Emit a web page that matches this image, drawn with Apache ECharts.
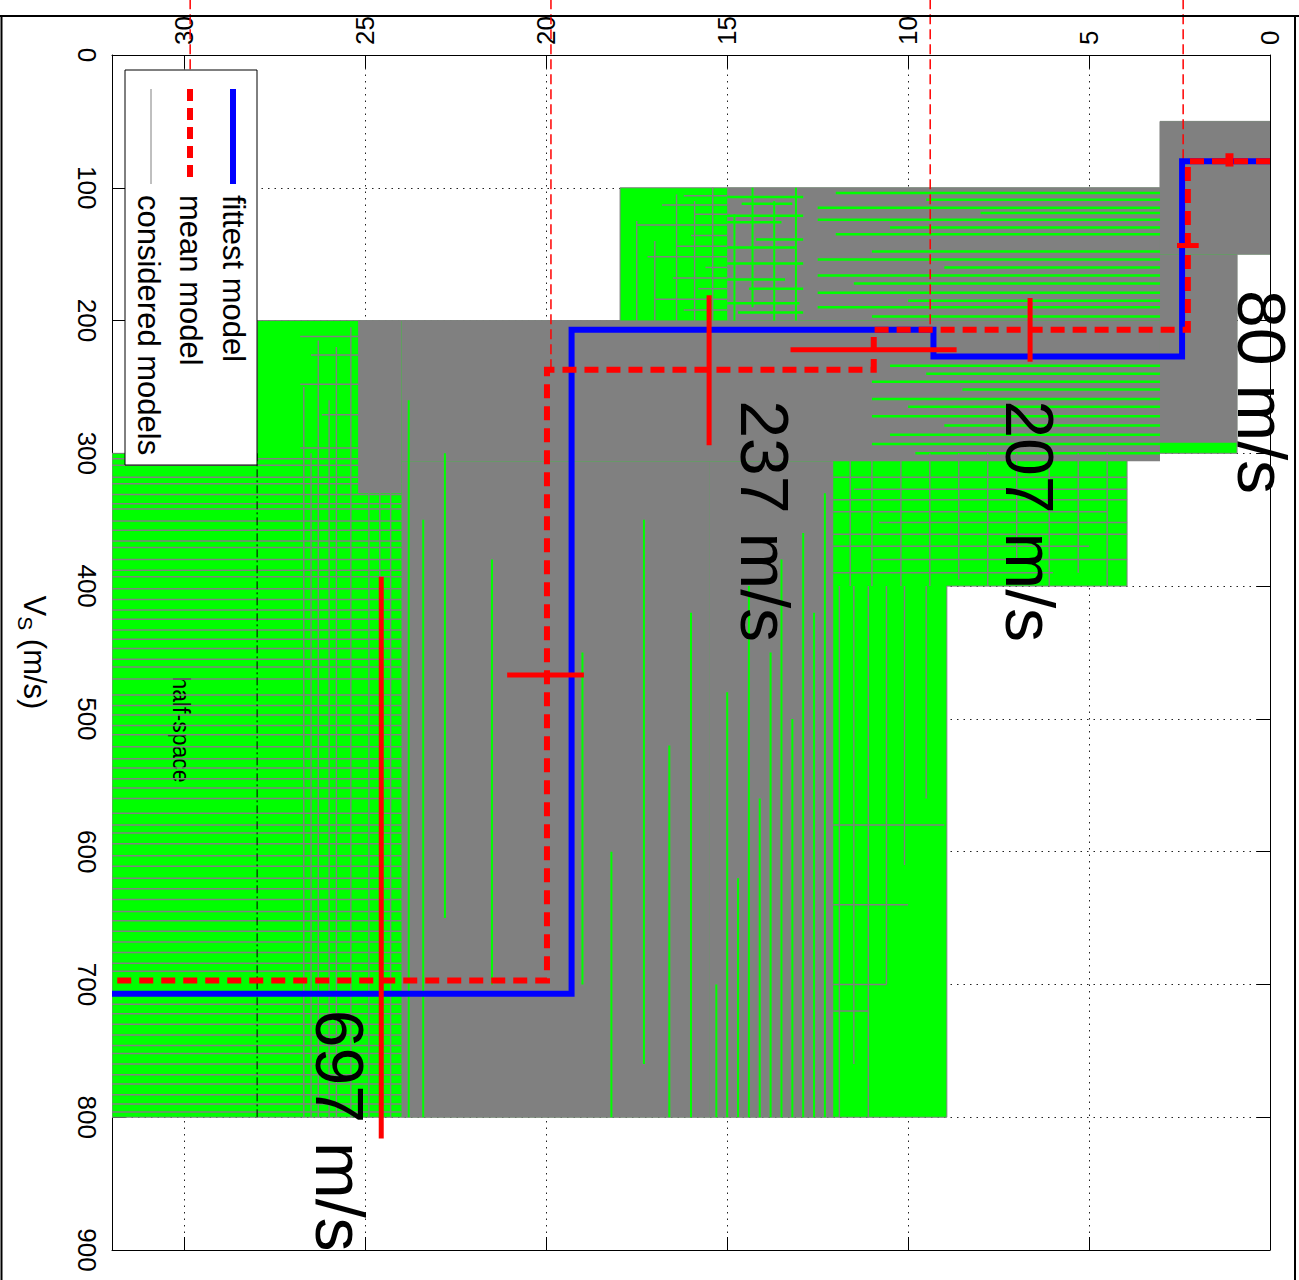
<!DOCTYPE html>
<html>
<head>
<meta charset="utf-8">
<script src="https://cdn.jsdelivr.net/npm/echarts@6/dist/echarts.min.js"></script>
<style>
html,body{margin:0;padding:0;background:#fff;}
#chart{width:1299px;height:1280px;}
</style>
</head>
<body>
<div id="chart"></div>
<script>
// ---------------- DATA (depth in m, Vs in m/s) ----------------
const depthTicks = [0, 5, 10, 15, 20, 25, 30];
const vsTicks = [0, 100, 200, 300, 400, 500, 600, 700, 800, 900];

// fittest model (step profile)
const fittestDepth = [0, 2.43, 2.43, 9.3, 9.3, 19.3, 19.3, 32];
const fittestVs    = [80, 80, 227, 227, 207, 207, 707, 707];
// mean model (step profile)
const meanDepth = [0, 2.27, 2.27, 10.95, 10.95, 19.98, 19.98, 32];
const meanVs    = [80, 80, 207, 207, 237, 237, 697, 697];
const meanLabels = ['80 m/s', '207 m/s', '237 m/s', '697 m/s'];
const labelDepth = [0.22, 6.63, 13.95, 25.7];
const labelVs    = [177, 260, 260, 719];

// Vs uncertainty bars: [depth, VsLow, VsHigh]
const vsErrBars = [[1.12, 74, 84], [6.63, 183, 231], [15.5, 181, 294], [24.56, 393, 816]];
// depth uncertainty bars: [Vs, depthLow, depthHigh]
const depthErrBars = [[143.5, 1.97, 2.57], [222, 8.66, 13.25], [467, 18.96, 21.08]];

// thin dashed interface guides: [depth, VsEnd]
const guideDepth = [2.40, 9.39, 19.87, 29.84];
const guideVsEnd = [80, 207, 237, 26];

// parameter-space envelope (green), vertices [depth, Vs]
const searchBounds = [[0,50],[3.04,50],[3.04,100],[17.96,100],[17.96,200],[27.99,200],[27.99,300],[32,300],[32,800],[8.93,800],[8.93,400],[3.95,400],[3.95,300],[0.91,300],[0.91,150],[0,150]];
const halfSpaceDepth = 27.99;
const halfSpaceVsRange = [300, 800];

// dense coverage of considered models: [depth0, depth1, Vs0, Vs1]
const denseBlocks = [
  [0, 3.04, 50, 150], [0.91, 3.04, 150, 292], [3.04, 15.0, 100, 200],
  [3.04, 24.0, 200, 306], [12.07, 15.5, 306, 800], [15.5, 24.0, 306, 800], [24.0, 25.2, 200, 330]
];
// gaps between considered models inside dense areas (horizontal): [Vs, depth0, depth1]
const gapsH = [
  [104,3.04,12.0],[109,3.04,9.5],[115,3.04,12.5],[119,3.04,8.0],[124,3.04,12.5],[130,3.04,10.5],
  [135,3.04,12.0],[148,3.04,11.0],[154,3.04,12.5],[160,3.04,9.0],[166,3.04,12.5],[172,3.04,11.5],
  [179,3.04,12.5],[185,3.04,10.0],[190,3.04,12.5],[197,3.04,11.0],
  [107,12.9,15.0],[112,13.2,14.6],[121,12.9,15.0],[126,13.5,15.0],[139,12.9,14.2],[145,13.1,15.0],
  [157,12.9,15.0],[169,13.4,15.0],[176,12.9,14.4],[187,13.0,15.0],[194,12.9,14.7],
  [234,3.04,10.5],[240,3.04,9.5],[246,3.04,11.0],[252,3.04,8.5],[259,3.04,11.0],[265,3.04,10.0],
  [272,3.04,11.0],[279,3.04,9.0],[286,3.04,10.5],[293,3.04,11.0],[300,3.04,9.8]
];
// gaps (vertical): [depth, Vs0, Vs1]
const gapsV = [
  [13.1,100,200],[13.7,110,200],[14.3,100,190],[14.8,120,200],
  [12.3,330,800],[12.6,420,800],[12.9,360,800],[13.2,500,800],[13.5,380,800],[13.8,450,800],
  [14.1,560,800],[14.4,400,800],[14.7,620,800],[15.0,480,800],[15.3,700,800],
  [16.0,420,800],[16.6,520,800],[17.3,350,760],[18.2,600,800],[19.0,450,700],[21.5,380,700],
  [22.8,300,650],[23.4,350,800],[23.8,260,800]
];
// individual considered-model lines over the envelope (horizontal): [Vs, depth0, depth1]
const modelH = [
  [106,15.0,16.2],[113,15.0,16.8],[120,15.0,15.9],[128,15.0,17.5],[136,15.0,16.0],[144,15.0,16.4],
  [152,15.0,17.2],[160,15.0,15.6],[168,15.0,16.5],[176,15.0,15.8],[184,15.0,17.0],[192,15.0,16.2],
  [318,3.95,12.07],[327,3.95,11.5],[335,3.95,12.07],[344,4.5,12.07],[352,3.95,10.8],[361,3.95,12.07],
  [370,5.0,12.07],[380,3.95,11.0],[390,6.0,12.07],
  [580,9.0,12.07],[640,10.0,12.07],[700,10.6,12.07],[720,11.1,12.07],
  [212,25.2,26.8],[226,25.2,26.5],[248,25.2,26.8],[271,25.2,26.2],[296,25.2,26.8],
  [304,24,32],[309,24,32],[318,24,32],[323,24,32],[331,24,32],[338,24,32],[342,24,32],[351,24,32],
  [358,24,32],[366,24,32],[371,24,32],[380,24,32],[388,24,32],[393,24,32],[402,24,32],[410,24,32],
  [418,24,32],[425,24,32],[433,24,32],[440,24,32],[447,24,32],[455,24,32],[461,24,32],[470,24,32],
  [482,24,32],[490,24,32],[497,24,32],[505,24,32],[512,24,32],[521,24,32],[530,24,32],[537,24,32],
  [545,24,32],[552,24,32],[560,24,32],[571,24,32],[580,24,32],[586,24,32],[594,24,32],[603,24,32],
  [611,24,32],[620,24,32],[628,24,32],[636,24,32],[645,24,32],[652,24,32],[660,24,32],[668,24,32],
  [676,24,32],[684,24,32],[690,24,32],[715,24,32],[722,24,32],[730,24,32],[738,24,32],[746,24,32],
  [752,24,32],[760,24,32],[768,24,32],[775,24,32],[783,24,32],[790,24,32],[796,24,32]
];
// considered-model lines (vertical): [depth, Vs0, Vs1]
const modelV = [
  [15.4,100,200],[15.9,110,200],[16.4,105,200],[17.0,140,200],[17.5,125,200],
  [4.5,300,400],[5.3,300,390],[6.1,300,400],[7.0,300,380],[7.8,300,400],[8.6,300,395],[9.4,300,400],[10.2,300,400],[11.0,300,400],[11.6,300,400],
  [9.5,400,560],[10.1,400,610],[10.6,400,700],[11.1,400,800],[11.5,400,760],[11.9,400,800],
  [24.3,210,800],[24.6,230,800],[24.9,240,800],[25.4,205,800],[25.8,220,800],[26.0,260,800],[26.3,215,800],[26.5,300,800],[26.7,250,800]
];

// ---------------- CHART ----------------
const FONT = '"Liberation Sans", Arial, Helvetica, sans-serif';
const GREEN = '#00ff00', GRAY = '#808080', BLUE = '#0000ff', RED = '#ff0000';
const chart = echarts.init(document.getElementById('chart'), null, {renderer: 'svg'});

function rectSeries(data, color, z) {
  return {
    type: 'custom', z, silent: true, clip: true,
    dimensions: ['d0','d1','v0','v1'], encode: {x: [0,1], y: [2,3]},
    data,
    renderItem(params, api) {
      const a = api.coord([api.value(0), api.value(2)]);
      const b = api.coord([api.value(1), api.value(3)]);
      return {type: 'rect', shape: {x: Math.min(a[0],b[0]), y: Math.min(a[1],b[1]),
        width: Math.abs(b[0]-a[0]), height: Math.abs(b[1]-a[1])}, style: {fill: color}};
    }
  };
}
// segments as [d0, v0, d1, v1]
function segSeries(data, color, width, z, dash, clip) {
  return {
    type: 'custom', z, silent: true, clip: clip !== false,
    dimensions: ['d0','v0','d1','v1'], encode: {x: [0,2], y: [1,3]},
    data,
    renderItem(params, api) {
      const a = api.coord([api.value(0), api.value(1)]);
      const b = api.coord([api.value(2), api.value(3)]);
      return {type: 'line', shape: {x1: a[0], y1: a[1], x2: b[0], y2: b[1]},
        style: {stroke: color, lineWidth: width, lineDash: dash || null, fill: null}};
    }
  };
}
const hSegs = arr => arr.map(r => [r[1], r[0], r[2], r[0]]);
const vSegs = arr => arr.map(r => [r[0], r[1], r[0], r[2]]);

const axisCommon = {
  axisLine: {show: true, onZero: false, lineStyle: {color: '#000', width: 1}},
  axisTick: {show: true, inside: true, length: 13, lineStyle: {color: '#000', width: 1}}
};
const rotText = (text, size) => ({text, fontSize: size, fontFamily: FONT, fill: '#000',
  align: 'left', verticalAlign: 'middle', textAlign: 'left', textVerticalAlign: 'middle'});

const option = {
  animation: false,
  backgroundColor: '#fff',
  grid: {left: 112, right: 29, top: 55, bottom: 30, containLabel: false},
  xAxis: [
    Object.assign({
      type: 'value', min: 0, max: 32, interval: 5, inverse: true, position: 'top',
      axisLabel: {rotate: -90, fontSize: 26, fontFamily: FONT, color: '#000', margin: 10, showMaxLabel: false,
        formatter: v => depthTicks.includes(v) ? String(v) : ''},
      splitLine: {show: true, lineStyle: {color: '#222', width: 1, type: [1.5, 5]}}
    }, axisCommon),
    Object.assign({
      type: 'value', min: 0, max: 32, interval: 5, inverse: true, position: 'bottom',
      axisLabel: {show: false}, splitLine: {show: false}
    }, axisCommon)
  ],
  yAxis: [
    Object.assign({
      type: 'value', min: 0, max: 900, interval: 100, inverse: true, position: 'left',
      axisLabel: {rotate: -90, fontSize: 26, fontFamily: FONT, color: '#000', margin: 12,
        formatter: v => vsTicks.includes(v) ? String(v) : ''},
      splitLine: {show: true, lineStyle: {color: '#222', width: 1, type: [1.5, 5]}},
      name: 'V{s|S} (m/s)', nameLocation: 'middle', nameGap: 58, nameRotate: -90,
      nameTextStyle: {fontSize: 31, fontFamily: FONT, color: '#000', padding: [0, 0, 0, 0],
        rich: {s: {fontSize: 21, fontFamily: FONT, color: '#000', padding: [18, 0, 0, 0]}}}
    }, axisCommon),
    Object.assign({
      type: 'value', min: 0, max: 900, interval: 100, inverse: true, position: 'right',
      axisLabel: {show: false}, splitLine: {show: false}
    }, axisCommon)
  ],
  series: [
    // search envelope
    {
      type: 'custom', z: 1, silent: true, clip: true,
      dimensions: ['d','v'], encode: {x: 0, y: 1},
      data: [searchBounds[0]],
      renderItem(params, api) {
        return {type: 'polygon', shape: {points: searchBounds.map(p => api.coord(p))},
          style: {fill: GREEN, stroke: GRAY, lineWidth: 1}};
      }
    },
    rectSeries(denseBlocks, GRAY, 2),
    segSeries(hSegs(gapsH), GREEN, 2.5, 3),
    segSeries(vSegs(gapsV), GREEN, 2, 3),
    // half-space label
    {
      type: 'custom', z: 3, silent: true, clip: false,
      dimensions: ['d','v'], encode: {x: 0, y: 1},
      data: [[30.09, 468]],
      renderItem(params, api) {
        const p = api.coord([api.value(0), api.value(1)]);
        return {type: 'text', x: p[0], y: p[1], rotation: -Math.PI/2, style: rotText('half-space', 23)};
      }
    },
    segSeries(hSegs(modelH), GRAY, 1.5, 4),
    segSeries(vSegs(modelV), GRAY, 1.4, 4),
    // half-space top (dash-dot)
    segSeries([[halfSpaceDepth, halfSpaceVsRange[0], halfSpaceDepth, halfSpaceVsRange[1]]], '#000', 1, 5, [8, 3, 2, 3]),
    // thin dashed guides
    segSeries(guideDepth.map((d, i) => [d, -42, d, guideVsEnd[i]]), RED, 1.5, 6, [10, 5], false),
    {
      name: 'fittest model', type: 'line', z: 7, silent: true, symbol: 'none',
      data: fittestDepth.map((d, i) => [d, fittestVs[i]]),
      lineStyle: {color: BLUE, width: 6, cap: 'butt', join: 'miter'}
    },
    {
      name: 'mean model', type: 'line', z: 8, silent: true, symbol: 'none',
      data: meanDepth.map((d, i) => [d, meanVs[i]]),
      lineStyle: {color: RED, width: 6, type: [14, 8], cap: 'butt', join: 'miter'}
    },
    segSeries(vSegs(vsErrBars.slice(0, 1)), RED, 8, 9),
    segSeries(vSegs(vsErrBars.slice(1)), RED, 5, 9),
    segSeries(hSegs(depthErrBars), RED, 5, 9),
    // big layer labels
    {
      type: 'custom', z: 10, silent: true, clip: false,
      dimensions: ['d','v'], encode: {x: 0, y: 1},
      data: labelDepth.map((d, i) => [d, labelVs[i], i]),
      renderItem(params, api) {
        const p = api.coord([api.value(0), api.value(1)]);
        return {type: 'text', x: p[0], y: p[1], rotation: -Math.PI/2, style: rotText(meanLabels[api.value(2)], 68)};
      }
    }
  ],
  graphic: [
    // figure frame
    {type: 'line', z: 100, silent: true, shape: {x1: 0, y1: 16, x2: 1299, y2: 16}, style: {stroke: '#000', lineWidth: 2}},
    {type: 'line', z: 100, silent: true, shape: {x1: 1.5, y1: 16, x2: 1.5, y2: 1280}, style: {stroke: '#000', lineWidth: 2}},
    {type: 'line', z: 100, silent: true, shape: {x1: 1295, y1: 16, x2: 1295, y2: 1280}, style: {stroke: '#000', lineWidth: 2}},
    // legend
    {type: 'rect', z: 100, silent: true, shape: {x: 125, y: 70, width: 132, height: 395}, style: {fill: '#fff', stroke: '#000', lineWidth: 1}},
    {type: 'line', z: 101, silent: true, shape: {x1: 233, y1: 89, x2: 233, y2: 184}, style: {stroke: BLUE, lineWidth: 6}},
    {type: 'line', z: 101, silent: true, shape: {x1: 190, y1: 89, x2: 190, y2: 184}, style: {stroke: RED, lineWidth: 6, lineDash: [12, 7]}},
    {type: 'line', z: 101, silent: true, shape: {x1: 151, y1: 89, x2: 151, y2: 184}, style: {stroke: GRAY, lineWidth: 1}},
    {type: 'text', z: 101, silent: true, x: 233, y: 195, rotation: -Math.PI/2, style: rotText('fittest model', 31)},
    {type: 'text', z: 101, silent: true, x: 190, y: 195, rotation: -Math.PI/2, style: rotText('mean model', 31)},
    {type: 'text', z: 101, silent: true, x: 148, y: 195, rotation: -Math.PI/2, style: rotText('considered models', 31)}
  ]
};
chart.setOption(option);
</script>
</body>
</html>
